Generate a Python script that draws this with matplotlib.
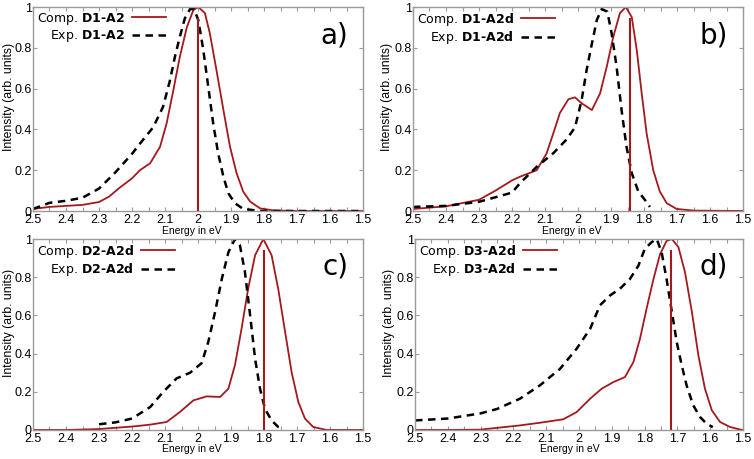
import matplotlib
matplotlib.use("Agg")
import matplotlib.pyplot as plt
from matplotlib.ticker import MultipleLocator, FuncFormatter

plt.rcParams['font.family'] = ['DejaVu Sans']
plt.rcParams['mathtext.fontset'] = 'dejavusans'

# ---------------- data ----------------
names = ["D1‐A2", "D1‐A2d", "D2‐A2d", "D3‐A2d"]
panel_tags = ["a)", "b)", "c)", "d)"]
stick_pos = [2.0, 1.842, 1.80, 1.72]
stick_h = [0.944, 0.944, 0.94, 0.94]

# a) D1-A2
comp_a_x = [2.5, 2.45, 2.4, 2.35, 2.3, 2.27, 2.236, 2.2, 2.176, 2.145, 2.115, 2.095, 2.075, 2.055, 2.034,
            2.014, 1.999, 1.979, 1.964, 1.944, 1.923, 1.903, 1.883, 1.863, 1.842, 1.812, 1.772, 1.7, 1.5]
comp_a_y = [0.01, 0.02, 0.025, 0.03, 0.044, 0.07, 0.116, 0.16, 0.20, 0.234, 0.315, 0.43, 0.59, 0.756, 0.90,
            0.985, 1.0, 0.97, 0.87, 0.69, 0.495, 0.315, 0.185, 0.095, 0.046, 0.013, 0.003, 0.0, 0.0]
exp_a_x = [2.5, 2.45, 2.4, 2.35, 2.3, 2.25, 2.2, 2.176, 2.136, 2.106, 2.085, 2.07, 2.055, 2.04, 2.024,
           2.012, 1.999, 1.984, 1.969, 1.954, 1.939, 1.923, 1.908, 1.888, 1.863, 1.81, 1.7, 1.5]
exp_a_y = [0.01, 0.04, 0.05, 0.065, 0.11, 0.19, 0.28, 0.33, 0.41, 0.51, 0.64, 0.756, 0.854, 0.944, 0.99,
           0.99, 0.936, 0.79, 0.61, 0.43, 0.283, 0.168, 0.087, 0.038, 0.01, 0.0, 0.0, 0.0]

# b) D1-A2d
comp_b_x = [2.5, 2.4, 2.3, 2.25, 2.2, 2.176, 2.125, 2.095, 2.075, 2.055, 2.029, 2.009, 1.989, 1.958,
            1.933, 1.913, 1.893, 1.873, 1.855, 1.837, 1.822, 1.807, 1.792, 1.772, 1.752, 1.731, 1.701,
            1.65, 1.5]
comp_b_y = [0.01, 0.023, 0.055, 0.10, 0.15, 0.168, 0.20, 0.283, 0.38, 0.48, 0.548, 0.557, 0.528, 0.495,
            0.577, 0.707, 0.854, 0.97, 1.0, 0.95, 0.79, 0.577, 0.38, 0.20, 0.095, 0.038, 0.01,
            0.002, 0.0]
exp_b_x = [2.5, 2.4, 2.3, 2.2, 2.176, 2.125, 2.075, 2.035, 2.009, 1.989, 1.974, 1.958, 1.943, 1.928,
           1.911, 1.898, 1.883, 1.868, 1.853, 1.837, 1.817, 1.797, 1.782]
exp_b_y = [0.02, 0.025, 0.045, 0.09, 0.136, 0.217, 0.283, 0.35, 0.41, 0.544, 0.69, 0.82, 0.936, 0.99,
           0.977, 0.87, 0.707, 0.495, 0.315, 0.185, 0.095, 0.054, 0.02]

# c) D2-A2d
comp_c_x = [2.5, 2.4, 2.3, 2.2, 2.145, 2.095, 2.055, 2.014, 1.974, 1.933, 1.908, 1.888, 1.868, 1.848,
            1.827, 1.802, 1.777, 1.757, 1.736, 1.716, 1.696, 1.676, 1.651, 1.61, 1.5]
comp_c_y = [0.0, 0.0, 0.005, 0.018, 0.028, 0.042, 0.094, 0.155, 0.176, 0.173, 0.216, 0.34, 0.53, 0.74,
            0.915, 1.0, 0.915, 0.74, 0.513, 0.30, 0.147, 0.06, 0.016, 0.0, 0.0]
exp_c_x = [2.3, 2.25, 2.2, 2.145, 2.105, 2.065, 2.024, 1.989, 1.969, 1.948, 1.928, 1.908, 1.888, 1.873,
           1.858, 1.842, 1.827, 1.812, 1.797, 1.777, 1.757, 1.742]
exp_c_y = [0.03, 0.04, 0.06, 0.12, 0.20, 0.27, 0.30, 0.35, 0.46, 0.62, 0.79, 0.93, 1.0, 0.967,
           0.83, 0.60, 0.373, 0.216, 0.11, 0.05, 0.016, 0.003]

# d) D3-A2d
comp_d_x = [2.5, 2.4, 2.3, 2.18, 2.119, 2.048, 2.007, 1.966, 1.931, 1.895, 1.86, 1.834, 1.814, 1.794,
            1.773, 1.753, 1.733, 1.717, 1.697, 1.677, 1.656, 1.636, 1.616, 1.595, 1.57, 1.54, 1.51, 1.5]
comp_d_y = [0.0, 0.0, 0.002, 0.024, 0.038, 0.056, 0.094, 0.164, 0.216, 0.251, 0.277, 0.356, 0.478, 0.635,
            0.79, 0.92, 0.99, 1.0, 0.958, 0.827, 0.62, 0.39, 0.216, 0.103, 0.042, 0.016, 0.003, 0.0]
exp_d_x = [2.5, 2.4, 2.3, 2.25, 2.18, 2.119, 2.058, 2.007, 1.966, 1.936, 1.905, 1.875, 1.845, 1.819,
           1.799, 1.778, 1.763, 1.748, 1.733, 1.717, 1.702, 1.687, 1.672, 1.652, 1.631, 1.611, 1.592]
exp_d_y = [0.05, 0.06, 0.087, 0.11, 0.164, 0.234, 0.32, 0.426, 0.53, 0.653, 0.705, 0.74, 0.79, 0.86,
           0.95, 0.984, 1.0, 0.93, 0.79, 0.62, 0.46, 0.34, 0.234, 0.13, 0.068, 0.033, 0.015]

comp = [(comp_a_x, comp_a_y), (comp_b_x, comp_b_y), (comp_c_x, comp_c_y), (comp_d_x, comp_d_y)]
exp = [(exp_a_x, exp_a_y), (exp_b_x, exp_b_y), (exp_c_x, exp_c_y), (exp_d_x, exp_d_y)]

# ---------------- figure ----------------
W, H = 754, 459
fig = plt.figure(figsize=(W / 100, H / 100), dpi=100)

# axes boxes in pixels: (left, top, right, bottom)
boxes = [(33, 7, 363, 211), (413, 7, 743, 211), (33, 239, 363, 430), (415, 239, 743, 430)]
ylabel_x = [9.5, 387, 9.5, 389]
xlabel_x = [192, 572, 192, 570]

red = "#a3191c"
frame = "#9a9a9a"
sans = ['Liberation Sans', 'DejaVu Sans']


def fmt_func(v, p):
    if abs(v) < 1e-9:
        return "0"
    return ("%.1f" % v).rstrip("0").rstrip(".")


for i, (l, t, r, b) in enumerate(boxes):
    ax = fig.add_axes([l / W, 1 - b / H, (r - l) / W, (b - t) / H])
    ax.plot(*comp[i], color=red, lw=1.3, label="Comp. $\\mathbf{%s}$" % names[i])
    ax.plot(*exp[i], color="black", lw=1.8, ls=(0, (3, 2.2)), label="Exp. $\\mathbf{%s}$" % names[i])
    ax.vlines(stick_pos[i], 0, stick_h[i], color=red, lw=1.5)
    ax.set_xlim(2.5, 1.5)
    ax.set_ylim(0, 1)
    ax.xaxis.set_major_locator(MultipleLocator(0.1))
    ax.xaxis.set_minor_locator(MultipleLocator(0.05))
    ax.yaxis.set_major_locator(MultipleLocator(0.2))
    ax.xaxis.set_major_formatter(FuncFormatter(fmt_func))
    ax.yaxis.set_major_formatter(FuncFormatter(fmt_func))
    ax.tick_params(which="both", direction="in", top=True, right=True, color=frame,
                   length=3, width=0.8)
    ax.tick_params(axis="x", labelsize=9, pad=2)
    ax.tick_params(axis="y", labelsize=9, pad=1)
    for lab in ax.get_xticklabels() + ax.get_yticklabels():
        lab.set_family(sans)
    for s in ax.spines.values():
        s.set_color(frame)
        s.set_linewidth(1.0)
    ax.set_xlabel("Energy in eV", fontsize=7.5, family=sans)
    ax.xaxis.set_label_coords((xlabel_x[i] - l) / (r - l), -14.5 / (b - t))
    ax.xaxis.label.set_va("top")
    ax.set_ylabel("Intensity (arb. units)", fontsize=8.8, family=sans)
    ax.yaxis.set_label_coords((ylabel_x[i] - l) / (r - l), 0.56)
    ax.yaxis.label.set_va("center")
    ax.text(0.955, 0.93, panel_tags[i], transform=ax.transAxes, fontsize=20,
            ha="right", va="top")
    ax.legend(loc="upper left", frameon=False, fontsize=9, markerfirst=False,
              handlelength=2.7, borderaxespad=0.1, borderpad=0.2, labelspacing=0.12,
              handletextpad=0.6)

fig.savefig("out.png", dpi=100)
